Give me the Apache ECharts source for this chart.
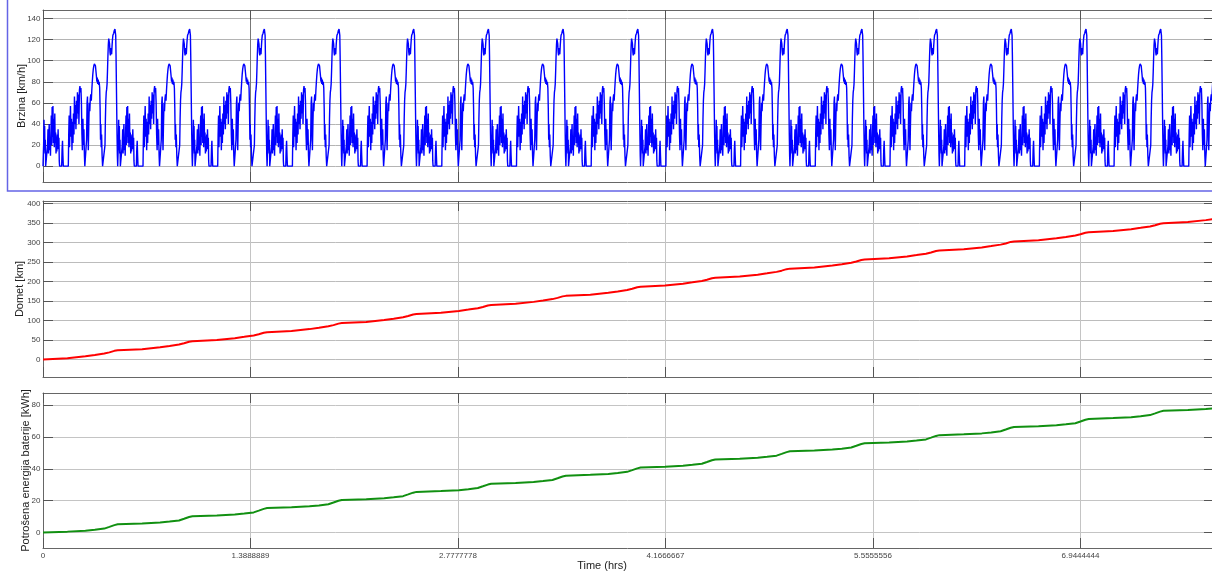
<!DOCTYPE html>
<html><head><meta charset="utf-8">
<script src="https://cdn.jsdelivr.net/npm/echarts@6/dist/echarts.min.js"></script>
<style>html,body{margin:0;padding:0;background:#fff}#c{width:1212px;height:572px}</style>
</head><body><div id="c"></div>
<script>
// One drive cycle (seconds within the cycle, speed km/h); the picture repeats it.
const cycleSeconds = [
  0,8,16,24,32,40,48,56,64,100,110,120,130,140,150,160,170,180,190,200,210,220,230,240,250,262,272,284,294,304,314,324,334,344,354,364,374,384,392,400,450,460,470,480,490,
  610,620,630,640,650,662,674,686,698,710,722,734,746,758,770,782,794,806,818,830,842,854,866,878,890,902,914,926,938,950,962,974,986,998,1008,
  1040,1050,1062,1072,1082,1092,1104,1116,1128,1140,1152,1164,1176,1188,1200,1212,1224,1238,1252,1264,1276,1288,1298,1308,1318,1330,1342,1354,1366,1376,1386,1394,1402,1412,1424,1436,
  1484,1494,1504,1514,1524,1534,1544,1554,1564,1574,1584,1594,1604,1614,1624,1634,1644,1654,1664,1674,1684,1694,1704,1714,1724,1734,1744,1752,1760,1768,1776,1784,1792
];
const cycleSpeed = [
  0,0,22,44,15,38,12,25,0,0,20,35,12,30,40,15,26,10,30,48,20,56,28,57,22,45,18,50,22,32,12,28,14,30,16,35,18,27,5,0,0,16,24,10,0,
  0,30,48,18,38,57,28,45,15,42,22,50,30,66,40,58,35,62,45,70,50,68,40,72,76,70,74,60,30,15,45,20,35,10,0,
  0,25,60,66,35,15,40,60,52,64,68,62,72,80,87,92,95,97,97,95,90,85,80,84,78,82,77,80,74,55,25,40,18,30,10,0,
  0,20,45,62,70,73,78,90,104,115,121,122,116,108,105,112,108,106,114,120,124,125,126,128,129,130,131,124,105,80,55,30,10
];
const cycleCount = 16;
const cycleLengthS = 1800;

// Cumulative curves
const sampleHours = [
  0,0.1636,0.2839,0.3472,0.4103,0.4444,0.4778,
  0.5,0.6636,0.7839,0.8472,0.9103,0.9444,0.9778,
  1.0,1.1636,1.2839,1.3472,1.4103,1.4444,1.4778,
  1.5,1.6636,1.7839,1.8472,1.9103,1.9444,1.9778,
  2.0,2.1636,2.2839,2.3472,2.4103,2.4444,2.4778,
  2.5,2.6636,2.7839,2.8472,2.9103,2.9444,2.9778,
  3.0,3.1636,3.2839,3.3472,3.4103,3.4444,3.4778,
  3.5,3.6636,3.7839,3.8472,3.9103,3.9444,3.9778,
  4.0,4.1636,4.2839,4.3472,4.4103,4.4444,4.4778,
  4.5,4.6636,4.7839,4.8472,4.9103,4.9444,4.9778,
  5.0,5.1636,5.2839,5.3472,5.4103,5.4444,5.4778,
  5.5,5.6636,5.7839,5.8472,5.9103,5.9444,5.9778,
  6.0,6.1636,6.2839,6.3472,6.4103,6.4444,6.4778,
  6.5,6.6636,6.7839,6.8472,6.9103,6.9444,6.9778,
  7.0,7.1636,7.2839,7.3472,7.4103,7.4444,7.4778,
  7.5,7.6636,7.7839,7.8472,7.9103,7.9444,7.9778,
  8.0
];
const dometKm = [
  0,3.1,7.9,11.4,15.0,18.1,22.0,
  23.3,26.4,31.2,34.7,38.3,41.4,45.3,
  46.5,49.6,54.4,57.9,61.5,64.6,68.5,
  69.8,72.9,77.7,81.2,84.8,87.9,91.8,
  93.1,96.2,101.0,104.5,108.1,111.2,115.1,
  116.4,119.5,124.3,127.8,131.4,134.5,138.4,
  139.6,142.7,147.5,151.0,154.6,157.7,161.6,
  162.9,166.0,170.8,174.3,177.9,181.0,184.9,
  186.2,189.3,194.1,197.6,201.2,204.3,208.2,
  209.4,212.5,217.3,220.8,224.4,227.5,231.4,
  232.7,235.8,240.6,244.1,247.7,250.8,254.7,
  256.0,259.1,263.9,267.4,271.0,274.1,278.0,
  279.2,282.3,287.1,290.6,294.2,297.3,301.2,
  302.5,305.6,310.4,313.9,317.5,320.6,324.5,
  325.8,328.9,333.7,337.2,340.8,343.9,347.8,
  349.1,352.2,357.0,360.5,364.1,367.2,371.1,
  372.3
];
const energyKWh = [
  0,0.5,1.1,1.7,2.4,3.5,4.6,
  5.1,5.6,6.2,6.8,7.5,8.6,9.7,
  10.2,10.7,11.3,11.9,12.6,13.7,14.8,
  15.3,15.8,16.4,17.0,17.7,18.8,19.9,
  20.4,20.9,21.5,22.1,22.8,23.9,25.0,
  25.5,26.0,26.6,27.2,27.9,29.0,30.1,
  30.6,31.1,31.7,32.3,33.0,34.1,35.2,
  35.7,36.2,36.8,37.4,38.1,39.2,40.3,
  40.8,41.3,41.9,42.5,43.2,44.3,45.4,
  45.9,46.4,47.0,47.6,48.3,49.4,50.5,
  51.0,51.5,52.1,52.7,53.4,54.5,55.6,
  56.1,56.6,57.2,57.8,58.5,59.6,60.7,
  61.2,61.7,62.3,62.9,63.6,64.7,65.8,
  66.3,66.8,67.4,68.0,68.7,69.8,70.9,
  71.4,71.9,72.5,73.1,73.8,74.9,76.0,
  76.5,77.0,77.6,78.2,78.9,80.0,81.1,
  81.6
];

const timeTicks = [0, 1.3888889, 2.7777778, 4.1666667, 5.5555556, 6.9444444];
const speedTicks = [0,20,40,60,80,100,120,140];
const dometTicks = [0,50,100,150,200,250,300,350,400];
const energyTicks = [0,20,40,60,80];

const speedData = [];
for (let k = 0; k < cycleCount; k++) {
  for (let i = 0; i < cycleSeconds.length; i++) {
    speedData.push([(k * cycleLengthS + cycleSeconds[i]) / 3600, cycleSpeed[i]]);
  }
}
speedData.push([cycleCount * cycleLengthS / 3600, 0]);
const dometData = sampleHours.map((h, i) => [h, dometKm[i]]);
const energyData = sampleHours.map((h, i) => [h, energyKWh[i]]);

const FONT = "'Liberation Sans', Arial, sans-serif";
const XMAX = 7.825;

function xAxes(gi, showLabels, vGridColor) {
  return [{
    type: 'value', gridIndex: gi, min: 0, max: XMAX, position: 'bottom',
    axisLine: { show: true, onZero: false, lineStyle: { color: '#666', width: 1 } },
    axisTick: { show: true, inside: true, length: 10, customValues: timeTicks, lineStyle: { color: '#555' } },
    axisLabel: { show: showLabels, customValues: timeTicks, margin: 4, fontSize: 8, color: '#444', fontFamily: FONT,
      formatter: v => v === 0 ? '0' : v.toFixed(7) },
    splitLine: { show: true, lineStyle: { color: vGridColor, width: 1 } }
  }, {
    type: 'value', gridIndex: gi, min: 0, max: XMAX, position: 'top',
    axisLine: { show: true, onZero: false, lineStyle: { color: '#666', width: 1 } },
    axisTick: { show: true, inside: true, length: 10, customValues: timeTicks, lineStyle: { color: '#555' } },
    axisLabel: { show: false },
    splitLine: { show: false }
  }];
}
function yAxes(gi, min, max, ticks, name, gap, hGridColor) {
  return [{
    type: 'value', gridIndex: gi, min: min, max: max, position: 'left',
    name: name, nameLocation: 'middle', nameGap: gap, nameMoveOverlap: false,
    nameTextStyle: { fontSize: 11, color: '#222', fontFamily: FONT },
    axisLine: { show: true, onZero: false, lineStyle: { color: '#666', width: 1 } },
    axisTick: { show: true, inside: true, length: 10, customValues: ticks, lineStyle: { color: '#555' } },
    axisLabel: { show: true, customValues: ticks, margin: 2.5, fontSize: 8, color: '#444', fontFamily: FONT },
    splitLine: { show: true, lineStyle: { color: hGridColor, width: 1 } }
  }, {
    type: 'value', gridIndex: gi, min: min, max: max, position: 'right',
    axisLine: { show: true, onZero: false, lineStyle: { color: '#666', width: 1 } },
    axisTick: { show: true, inside: true, length: 8, customValues: ticks, lineStyle: { color: '#555' } },
    axisLabel: { show: false },
    splitLine: { show: false }
  }];
}

const chart = echarts.init(document.getElementById('c'), null, { renderer: 'canvas' });
const gridBase = { left: 43, right: 0, containLabel: false, outerBoundsMode: 'none' };
chart.setOption({
  animation: false,
  backgroundColor: '#fff',
  grid: [
    Object.assign({ top: 10, height: 172 }, gridBase),
    Object.assign({ top: 201, height: 176 }, gridBase),
    Object.assign({ top: 393, height: 155 }, gridBase)
  ],
  xAxis: [].concat(xAxes(0, false, '#777'), xAxes(1, false, '#c4c4c4'), xAxes(2, true, '#c4c4c4')),
  yAxis: [].concat(
    yAxes(0, -15, 148, speedTicks, 'Brzina [km/h]', 16, '#b4b4b4'),
    yAxes(1, -45, 406, dometTicks, 'Domet [km]', 18, '#bcbcbc'),
    yAxes(2, -9.8, 87.7, energyTicks, 'Potrošena energija baterije [kWh]', 12, '#c4c4c4')
  ),
  graphic: [
    { type: 'rect', shape: { x: 7.5, y: -5, width: 1215, height: 196 }, style: { fill: 'none', stroke: '#6464e6', lineWidth: 1.5 }, silent: true },
    { type: 'text', x: 602, y: 566, style: { text: 'Time (hrs)', fontSize: 11, fill: '#222', fontFamily: FONT, textAlign: 'center', textVerticalAlign: 'middle' }, silent: true }
  ],
  series: [
    { type: 'line', xAxisIndex: 0, yAxisIndex: 0, data: speedData, showSymbol: false, symbol: 'none',
      lineStyle: { color: '#0000ff', width: 1.4 }, clip: true },
    { type: 'line', xAxisIndex: 2, yAxisIndex: 2, data: dometData, showSymbol: false, symbol: 'none',
      lineStyle: { color: '#ff0000', width: 2 }, clip: true },
    { type: 'line', xAxisIndex: 4, yAxisIndex: 4, data: energyData, showSymbol: false, symbol: 'none',
      lineStyle: { color: '#119011', width: 2 }, clip: true }
  ]
});
</script>
</body></html>
